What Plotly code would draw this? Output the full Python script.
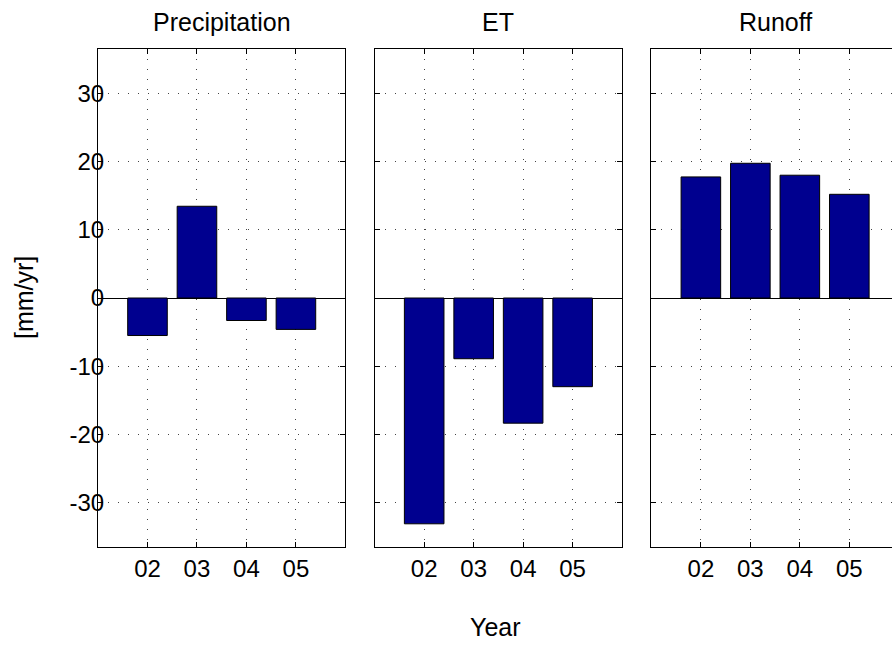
import plotly.graph_objects as go
from plotly.subplots import make_subplots

years = ["02", "03", "04", "05"]
precipitation = [-5.5, 13.45, -3.3, -4.6]
et = [-33.1, -8.9, -18.35, -13.0]
runoff = [17.75, 19.75, 18.0, 15.2]
panel_titles = ["Precipitation", "ET", "Runoff"]
y_ticks = [-30, -20, -10, 0, 10, 20, 30]
y_tick_labels = [str(v) for v in y_ticks]

FONT = "Liberation Sans, Arial, Helvetica, sans-serif"
BAR_COLOR = "#00008F"

W, H = 892, 647
L, R, T, B = 98, 0, 49, 100
plot_w = W - L - R
panel_px = 247.4
gap_px = 29.3
# the third panel runs past the right edge of the picture, as in the original
vis3 = plot_w - 2 * (panel_px + gap_px)

domains = [
    [0, panel_px / plot_w],
    [(panel_px + gap_px) / plot_w, (2 * panel_px + gap_px) / plot_w],
    [(2 * (panel_px + gap_px)) / plot_w, 1],
]
x_ranges = [[-1, 4], [-1, 4], [-1, -1 + 5 * vis3 / panel_px]]

fig = make_subplots(rows=1, cols=3, shared_yaxes=True)

for i, vals in enumerate([precipitation, et, runoff]):
    fig.add_trace(go.Bar(x=years, y=vals, width=0.8,
                         marker=dict(color=BAR_COLOR, line=dict(color="black", width=1)),
                         showlegend=False), row=1, col=i + 1)

for i in range(3):
    n = "" if i == 0 else str(i + 1)
    fig.layout["xaxis" + n].update(
        domain=domains[i], type="category", range=x_ranges[i],
        showline=True, linecolor="black", linewidth=1, mirror="ticks",
        ticks="inside", ticklen=5, tickcolor="black",
        showgrid=True, gridcolor="#444444", griddash="1px,9px", gridwidth=1,
        tickfont=dict(family=FONT, size=24, color="black"),
    )
    fig.layout["yaxis" + n].update(
        range=[-36.5, 36.5], tickvals=y_ticks, ticktext=y_tick_labels,
        showticklabels=(i == 0), ticklabelstandoff=-12,
        showline=True, linecolor="black", linewidth=1,
        mirror="ticks" if i < 2 else False,
        ticks="inside", ticklen=5, tickcolor="black",
        showgrid=True, gridcolor="#444444", griddash="1px,9px", gridwidth=1,
        zeroline=True, zerolinecolor="black", zerolinewidth=1,
        tickfont=dict(family=FONT, size=24, color="black"),
    )
    xc = 0.5 if i < 2 else 0.5 * panel_px / vis3
    fig.add_annotation(text=panel_titles[i], xref="x" + n + " domain", yref="paper",
                       x=xc, y=1, xanchor="center", yanchor="bottom", yshift=11,
                       showarrow=False, font=dict(family=FONT, size=25, color="black"))

fig.add_annotation(text="[mm/yr]", xref="paper", yref="paper",
                   x=(24 - L) / plot_w, y=0.5, xanchor="center", yanchor="middle",
                   textangle=-90, showarrow=False,
                   font=dict(family=FONT, size=25, color="black"))
fig.add_annotation(text="Year", xref="paper", yref="paper",
                   x=0.5, y=-(627 - (H - B)) / (H - T - B), xanchor="center", yanchor="middle",
                   showarrow=False, font=dict(family=FONT, size=25, color="black"))

fig.update_layout(width=W, height=H, margin=dict(l=L, r=R, t=T, b=B),
                  plot_bgcolor="white", paper_bgcolor="white", bargap=0.2)

fig.write_html("out.html", config={"displayModeBar": False},
               post_script="document.body.style.margin='0';")
